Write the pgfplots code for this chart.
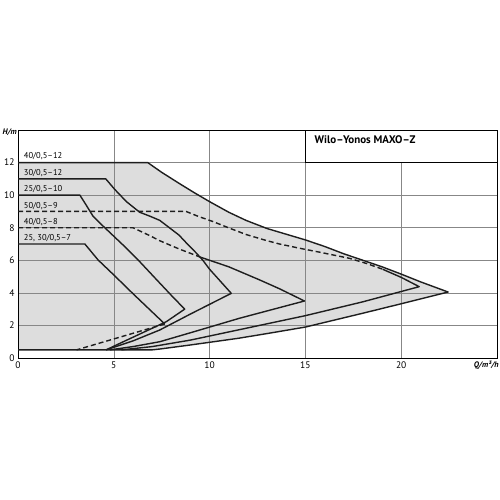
\documentclass[border=0pt]{standalone}
\usepackage{pgfplots}
\pgfplotsset{compat=1.18}
\usepackage{fontspec}
\setmainfont{PT Sans}
\definecolor{fillgray}{RGB}{221,221,221}
\definecolor{gridgray}{RGB}{135,135,135}
\definecolor{curve}{RGB}{30,30,30}
\begin{document}
\begin{tikzpicture}
\path (0,0) rectangle (500pt,500pt);
\begin{axis}[
  at={(18pt,142pt)}, anchor=south west,
  scale only axis, width=479pt, height=228pt,
  xmin=0, xmax=25, ymin=0, ymax=14,
  xtick={0,5,10,15,20}, ytick={0,2,4,6,8,10,12},
  grid=major, major grid style={gridgray, line width=0.6pt},
  major tick length=0pt,
  axis line style={black, line width=0.8pt},
  tick label style={font=\fontsize{9.5}{10}\selectfont},
  /pgf/number format/assume math mode=true,
  set layers, clip=false,
  curv/.style={curve, line width=1.4pt, line join=round},
  dsh/.style={curve, line width=1.4pt, dash pattern=on 5pt off 3pt},
]
% envelope fill
\addplot[fill=fillgray, draw=none, on layer=axis background] coordinates {
(0,0.5)(0,12)(6.77,12)(7.5,11.4)(8.44,10.7)(9.2,10.15)(10,9.6)(11,8.95)(11.9,8.45)(13,7.95)(14,7.6)(15,7.25)(16,6.85)(17,6.4)(18,6.0)(19,5.6)(20,5.15)(21,4.68)(22.45,4.05)(20,3.33)(18,2.75)(15,1.9)(13,1.5)(11.5,1.21)(9,0.8)(7.4,0.55)(7.0,0.5)} -- cycle;
% 40/0,5-12
\addplot[curv] coordinates {
(0,12)(6.77,12)(7.5,11.4)(8.44,10.7)(9.2,10.15)(10,9.6)(11,8.95)(11.9,8.45)(13,7.95)(14,7.6)(15,7.25)(16,6.85)(17,6.4)(18,6.0)(19,5.6)(20,5.15)(21,4.68)(22.45,4.05)(20,3.33)(18,2.75)(15,1.9)(13,1.5)(11.5,1.21)(9,0.8)(7.4,0.55)(7.0,0.5)(0,0.5)};
% 50/0,5-9
\addplot[dsh] coordinates {
(0,9)(8.77,9)(9.4,8.7)(10.17,8.38)(11.04,7.97)(11.91,7.58)(13,7.2)(13.65,7.0)(14.69,6.74)(15.73,6.5)(17.3,6.12)(18.2,5.8)(19.03,5.45)};
\addplot[curv] coordinates {
(19.03,5.45)(20.0,4.95)(20.94,4.38)(18,3.45)(15,2.6)(12,1.85)(9,1.1)(7,0.7)(5.4,0.5)};
% 40/0,5-8
\addplot[dsh] coordinates {
(0,8)(6.0,8)(6.9,7.5)(7.4,7.2)(8.4,6.7)(9.5,6.2)};
\addplot[curv] coordinates {
(9.5,6.2)(11,5.6)(12.6,4.8)(13.65,4.25)(14.95,3.5)(11.56,2.44)(9,1.55)(7.4,1.0)(6,0.7)(4.8,0.5)};
% 30/0,5-12
\addplot[curv] coordinates {
(0,11)(4.58,11)(5.05,10.35)(5.66,9.6)(6.35,8.95)(6.9,8.7)(7.4,8.45)(7.9,8.0)(8.4,7.55)(8.8,7.05)(9.3,6.45)(9.65,6.0)(10.0,5.45)(11.13,3.97)(9,2.7)(7.4,1.72)(6,1.05)(4.6,0.5)};
% 25/0,5-10
\addplot[curv] coordinates {
(0,10)(3.23,10)(3.5,9.5)(3.92,8.7)(4.44,8.1)(5.66,6.74)(6.27,6.02)(7.2,4.85)(8.0,3.85)(8.7,3.0)(7.74,2.23)(6.5,1.55)(5.5,1.0)(4.6,0.5)};
% 25, 30/0,5-7
\addplot[curv] coordinates {
(0,7)(3.49,7)(4.18,6.02)(5.0,5.1)(6.0,3.95)(7.66,2.09)};
\addplot[dsh] coordinates {(7.66,2.09)(3.06,0.5)};
% title box
\addplot[draw=black, line width=0.8pt, fill=white] coordinates {(15,12)(25,12)(25,14)(15,14)} -- cycle;
\node[anchor=west, font=\bfseries\fontsize{11}{12}\selectfont] at (axis cs:15.3,13.42) {Wilo--Yonos MAXO--Z};
% curve labels
\begin{scope}[every node/.style={anchor=west, inner sep=0pt, font=\fontsize{8.5}{10}\selectfont}]
\node at (axis cs:0.3,12.37) {40/0,5--12};
\node at (axis cs:0.3,11.37) {30/0,5--12};
\node at (axis cs:0.3,10.35) {25/0,5--10};
\node at (axis cs:0.3,9.35) {50/0,5--9};
\node at (axis cs:0.3,8.36) {40/0,5--8};
\node at (axis cs:0.3,7.34) {25, 30/0,5--7};
\end{scope}
% axis names
\node[anchor=east, inner sep=1pt, font=\bfseries\itshape\fontsize{8}{9}\selectfont] at (axis cs:0,13.85) {H/m};
\node[anchor=north east, inner sep=0pt, font=\bfseries\itshape\fontsize{8}{9}\selectfont] at (axis cs:25.1,-0.2) {Q/m³/h};
\end{axis}
\end{tikzpicture}
\end{document}
